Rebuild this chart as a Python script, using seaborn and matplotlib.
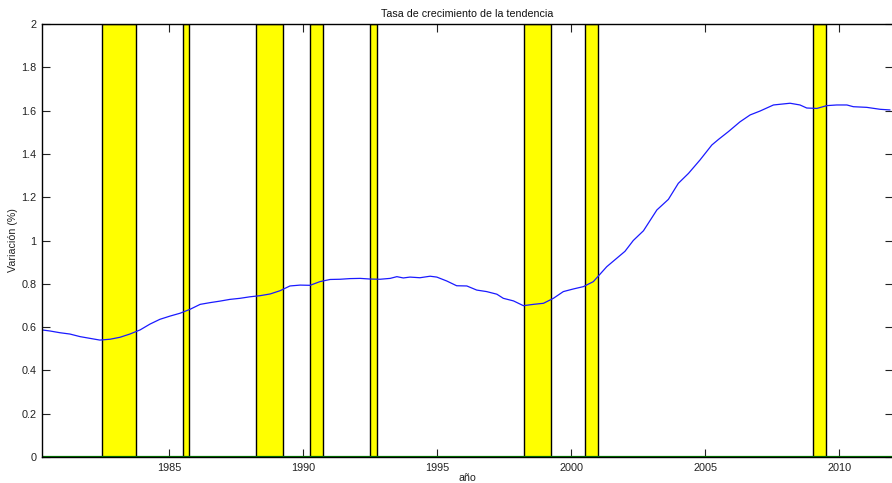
import matplotlib
matplotlib.use("Agg")
import matplotlib.pyplot as plt
import seaborn as sns
import pandas as pd

title = "Tasa de crecimiento de la tendencia"
xlabel = "año"
ylabel = "Variación (%)"

years = [1980.25, 1980.55, 1980.92, 1981.29, 1981.67, 1982.04, 1982.41, 1982.79,
         1983.16, 1983.53, 1983.91, 1984.28, 1984.65, 1985.03, 1985.40, 1985.77,
         1986.15, 1986.52, 1986.89, 1987.26, 1987.64, 1988.01, 1988.38, 1988.76,
         1989.13, 1989.50, 1989.88, 1990.25, 1990.62, 1991.00, 1991.37, 1991.74,
         1992.12, 1992.49, 1992.86, 1993.24, 1993.49, 1993.73, 1993.98, 1994.35,
         1994.73, 1994.98, 1995.35, 1995.72, 1996.10, 1996.47, 1996.84, 1997.22,
         1997.46, 1997.84, 1998.21, 1998.58, 1998.96, 1999.33, 1999.70, 2000.07,
         2000.45, 2000.82, 2001.32, 2002.00, 2002.31, 2002.69, 2003.19, 2003.62,
         2003.99, 2004.37, 2004.80, 2005.24, 2005.49, 2005.86, 2006.29, 2006.67,
         2007.04, 2007.54, 2008.16, 2008.53, 2008.78, 2009.16, 2009.53, 2009.90,
         2010.28, 2010.52, 2011.02, 2011.52, 2011.89]
growth = [0.587, 0.582, 0.574, 0.568, 0.556, 0.548, 0.540, 0.544,
          0.553, 0.568, 0.587, 0.614, 0.636, 0.651, 0.664, 0.682,
          0.705, 0.713, 0.720, 0.728, 0.733, 0.740, 0.745, 0.753,
          0.768, 0.790, 0.794, 0.793, 0.810, 0.820, 0.821, 0.824,
          0.825, 0.822, 0.821, 0.825, 0.833, 0.827, 0.831, 0.828,
          0.835, 0.831, 0.813, 0.791, 0.790, 0.771, 0.764, 0.752,
          0.733, 0.721, 0.699, 0.705, 0.710, 0.733, 0.764, 0.776,
          0.787, 0.810, 0.879, 0.950, 1.000, 1.045, 1.141, 1.190,
          1.264, 1.310, 1.372, 1.441, 1.467, 1.503, 1.548, 1.580,
          1.598, 1.626, 1.634, 1.626, 1.612, 1.610, 1.623, 1.626,
          1.626, 1.618, 1.615, 1.606, 1.603]

rec_start = [1982.5, 1985.5, 1988.25, 1990.25, 1992.5, 1998.25, 2000.5, 2009.0]
rec_end = [1983.75, 1985.75, 1989.25, 1990.75, 1992.75, 1999.25, 2001.0, 2009.5]

xticks = [1985, 1990, 1995, 2000, 2005, 2010]
yticks = [0, 0.2, 0.4, 0.6, 0.8, 1.0, 1.2, 1.4, 1.6, 1.8, 2.0]
yticklabels = ["0", "0.2", "0.4", "0.6", "0.8", "1", "1.2", "1.4", "1.6", "1.8", "2"]

sns.set_style("white")
plt.rcParams["font.family"] = ["Liberation Sans", "DejaVu Sans"]

fig = plt.figure(figsize=(8.92, 4.83), dpi=100)
ax = fig.add_axes([42 / 892, 26 / 483, 851 / 892, 433 / 483])

for s, e in zip(rec_start, rec_end):
    ax.axvspan(s, e, ymin=0, ymax=1, facecolor="#ffff00", edgecolor="black",
               linewidth=1.0, zorder=1)

df = pd.DataFrame({"year": years, "growth": growth})
sns.lineplot(data=df, x="year", y="growth", color="#1a1aff", linewidth=0.9,
             ax=ax, zorder=3)
ax.axhline(0, color="#008000", linewidth=1.6, zorder=4)

ax.set_xlim(1980.25, 2012.0)
ax.set_ylim(0, 2)
ax.set_xticks(xticks)
ax.set_xticklabels([str(t) for t in xticks])
ax.set_yticks(yticks)
ax.set_yticklabels(yticklabels)
ax.tick_params(direction="in", length=5.8, width=0.8, top=True, right=True,
               bottom=True, left=True, labelsize=7.8, colors="#222222",
               pad=4)
for sp in ax.spines.values():
    sp.set_color("black")
    sp.set_linewidth(1.0)
    sp.set_zorder(5)

ax.set_title(title, fontsize=7.7, pad=5, color="#111111")
ax.set_xlabel(xlabel, fontsize=7.7, labelpad=0, color="#222222")
ax.set_ylabel(ylabel, fontsize=7.7, labelpad=2, color="#222222")

fig.savefig("out.png", dpi=100)
